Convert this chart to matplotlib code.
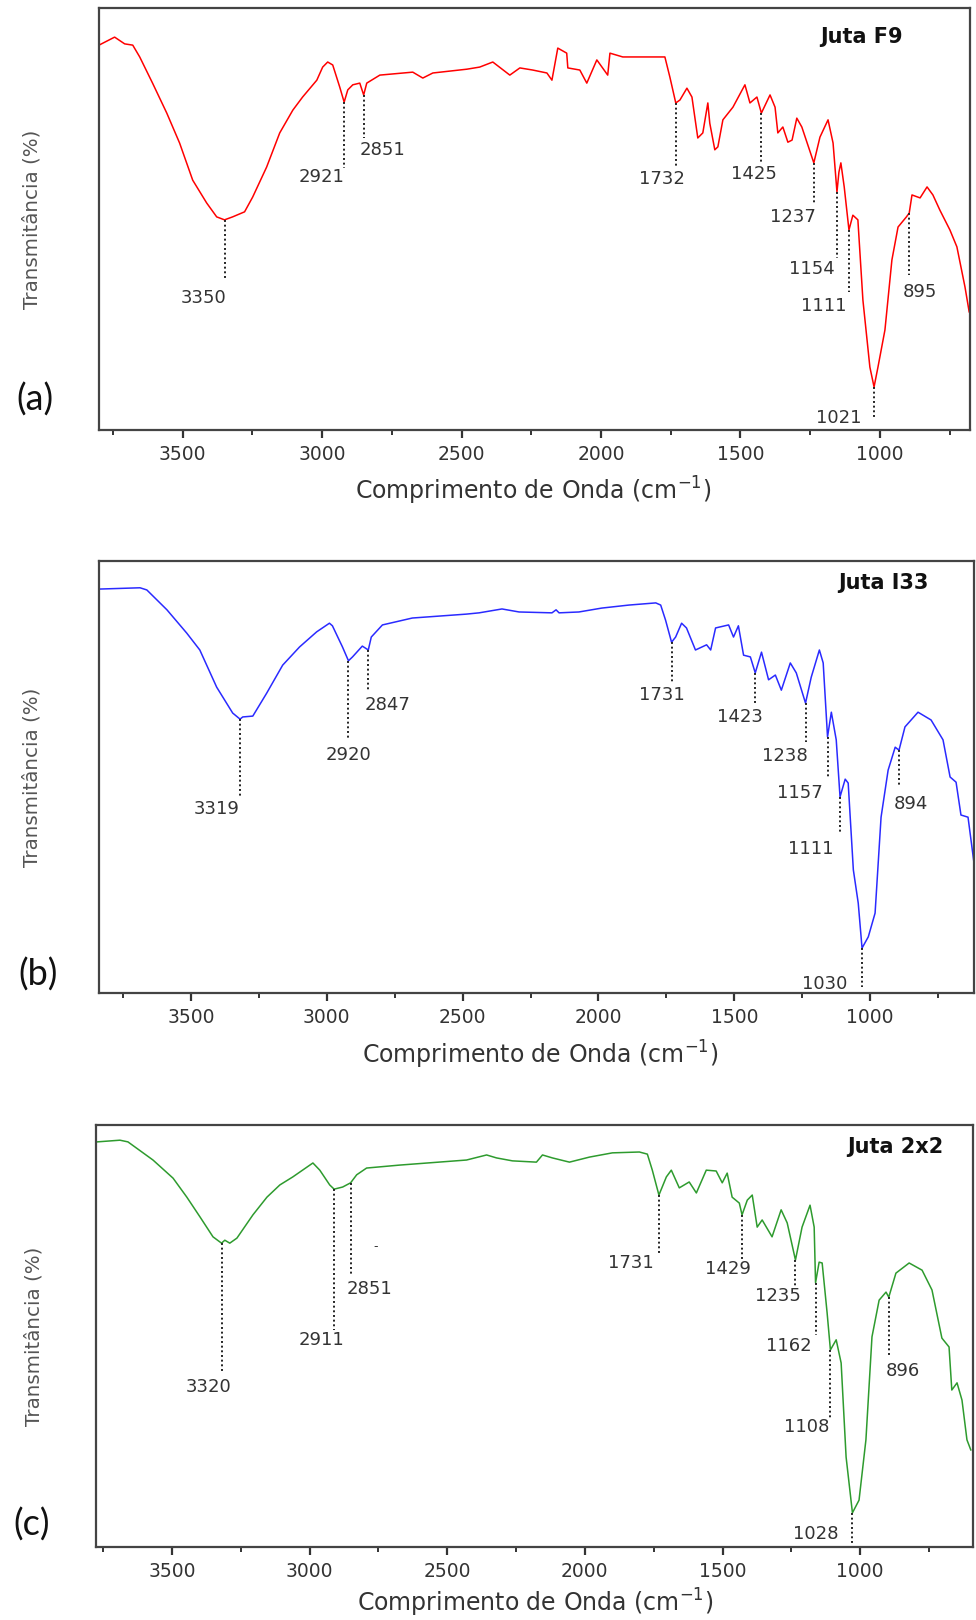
import numpy as np
import matplotlib
matplotlib.use('Agg')
import matplotlib.pyplot as plt

plt.rcParams['mathtext.default'] = 'regular'

# FTIR spectra of jute fibres: wavenumber (cm-1) and transmittance (arbitrary %)
wn_a = [3800, 3744, 3708, 3679, 3654, 3608, 3557, 3511, 3464, 3414, 3378, 3350, 3321, 3278,
        3249, 3199, 3152, 3105, 3070, 3019, 2998, 2980, 2962, 2937, 2921, 2908, 2890, 2865,
        2851, 2840, 2793, 2675, 2639, 2603, 2481, 2435, 2388, 2327, 2291, 2245, 2194, 2176,
        2155, 2123, 2119, 2076, 2051, 2015, 1976, 1968, 1922, 1814, 1771, 1753, 1732, 1717,
        1692, 1674, 1653, 1635, 1617, 1610, 1592, 1581, 1563, 1527, 1484, 1466, 1441, 1425,
        1394, 1376, 1366, 1348, 1330, 1315, 1298, 1280, 1237, 1215, 1186, 1168, 1154, 1147,
        1140, 1128, 1111, 1097, 1079, 1061, 1036, 1021, 1007, 982, 957, 935, 905, 895, 885,
        856, 831, 810, 785, 749, 724, 695, 680]
t_a = [91.2, 93.1, 91.5, 91.2, 88.4, 82.2, 75.1, 68.0, 59.2, 53.8, 50.5, 49.8, 50.5, 51.7,
       55.2, 62.3, 70.4, 75.8, 78.9, 82.9, 86.0, 87.2, 86.5, 81.3, 77.7, 80.6, 81.8, 82.2,
       79.4, 82.2, 84.1, 84.8, 83.4, 84.6, 85.5, 86.0, 87.2, 84.1, 85.8, 85.3, 84.6, 82.9,
       90.5, 89.3, 85.8, 85.3, 82.2, 87.7, 84.1, 89.3, 88.4, 88.4, 88.4, 83.6, 77.5, 78.2,
       81.0, 78.9, 69.2, 70.4, 77.5, 72.7, 66.4, 67.1, 73.5, 76.5, 81.8, 77.5, 78.9, 75.1,
       79.4, 76.5, 70.4, 71.8, 68.2, 68.7, 73.9, 71.8, 63.3, 69.4, 73.5, 68.0, 56.4, 61.1,
       63.3, 57.6, 47.4, 50.9, 49.8, 30.8, 14.9, 10.2, 14.9, 23.7, 40.3, 48.1, 50.5, 51.4, 55.7,
       55.0, 57.6, 55.7, 52.1, 47.4, 43.4, 33.9, 28.0]

wn_b = [3838, 3687, 3662, 3588, 3515, 3467, 3405, 3346, 3319, 3309, 3272, 3221, 3162, 3100,
        3037, 2990, 2979, 2942, 2920, 2905, 2869, 2847, 2836, 2795, 2685, 2487, 2439, 2355,
        2292, 2171, 2156, 2145, 2072, 1988, 1888, 1789, 1771, 1753, 1731, 1716, 1694, 1676,
        1643, 1602, 1587, 1569, 1521, 1503, 1485, 1466, 1441, 1423, 1400, 1374, 1349, 1327,
        1294, 1272, 1238, 1217, 1187, 1173, 1157, 1143, 1125, 1111, 1092, 1081, 1062, 1044,
        1030, 1007, 982, 960, 934, 908, 894, 872, 824, 776, 732, 706, 684, 666, 640, 618]
t_b = [93.5, 93.8, 93.3, 88.7, 83.3, 79.4, 70.8, 64.8, 63.4, 63.9, 64.1, 69.4, 75.9, 80.1,
       83.6, 85.6, 85.0, 80.1, 76.9, 77.8, 80.3, 79.4, 82.4, 85.2, 86.8, 87.7, 88.0, 88.9,
       88.2, 88.0, 88.7, 88.0, 88.2, 89.1, 89.8, 90.3, 89.8, 86.3, 81.2, 82.4, 85.6, 84.5,
       79.4, 80.6, 79.4, 84.5, 85.2, 82.4, 85.0, 78.2, 77.8, 74.1, 78.9, 72.5, 73.6, 70.1,
       76.4, 74.1, 67.1, 73.1, 79.4, 76.4, 59.3, 65.0, 58.6, 45.4, 49.5, 48.6, 28.5, 20.8,
       10.4, 13.0, 18.5, 40.7, 51.6, 56.9, 56.2, 61.6, 65.0, 63.2, 58.6, 50.0, 48.8, 41.2, 40.7, 30.1]

wn_c = [3772, 3689, 3660, 3569, 3496, 3446, 3398, 3351, 3320, 3308, 3290, 3264, 3206, 3155,
        3108, 3061, 2988, 2963, 2927, 2911, 2880, 2851, 2829, 2793, 2673, 2430, 2357, 2321,
        2263, 2176, 2154, 2118, 2056, 1983, 1900, 1802, 1773, 1755, 1731, 1704, 1686, 1657,
        1621, 1595, 1559, 1523, 1501, 1483, 1465, 1439, 1429, 1410, 1392, 1374, 1356, 1320,
        1287, 1265, 1235, 1211, 1182, 1167, 1162, 1149, 1138, 1120, 1108, 1087, 1069, 1051,
        1028, 1004, 979, 957, 931, 906, 896, 870, 822, 775, 739, 703, 677, 667, 648, 630, 612, 598]
t_c = [96.0, 96.4, 96.0, 91.7, 87.4, 82.9, 78.2, 73.5, 72.0, 72.7, 72.0, 73.2, 78.7, 82.9,
       85.8, 87.7, 91.0, 89.3, 85.8, 84.8, 85.3, 86.3, 88.2, 89.8, 90.5, 91.7, 92.9, 92.2,
       91.5, 91.2, 92.9, 92.2, 91.2, 92.4, 93.4, 93.6, 93.1, 89.3, 83.4, 87.7, 89.3, 85.1,
       86.5, 83.9, 89.3, 89.1, 86.3, 88.6, 82.9, 81.5, 78.7, 82.2, 83.4, 75.8, 77.5, 73.5,
       79.9, 76.8, 68.0, 75.8, 81.0, 75.8, 62.6, 67.5, 67.3, 55.5, 46.7, 49.1, 43.6, 21.3,
       8.1, 11.1, 25.4, 49.8, 58.5, 60.4, 59.2, 64.9, 67.3, 65.6, 60.9, 49.5, 47.4, 37.2,
       38.9, 34.8, 25.4, 23.0]

# labelled bands
peaks_a = [3350, 2921, 2851, 1732, 1425, 1237, 1154, 1111, 1021, 895]
peaks_b = [3319, 2920, 2847, 1731, 1423, 1238, 1157, 1111, 1030, 894]
peaks_c = [3320, 2911, 2851, 1731, 1429, 1235, 1162, 1108, 1028, 896]

# label layout: (bottom of dotted line, top of text, horizontal text shift in px)
lay_a = [(35.5, 33.4, -21), (62.1, 62.1, -23), (69.2, 68.5, 19), (62.3, 61.6, -14),
         (63.5, 62.8, -7), (53.3, 52.6, -21), (40.8, 40.3, -25), (32.7, 31.5, -25),
         (2.8, 5.0, -35), (36.7, 34.8, 11)]
lay_b = [(45.4, 44.7, -23), (58.6, 57.2, 0), (69.7, 68.8, 19), (71.8, 71.1, -10),
         (67.1, 66.0, -15), (58.1, 56.9, -21), (49.8, 48.4, -28), (37.0, 35.4, -29),
         (1.4, 4.2, -37), (48.1, 45.8, 12)]
lay_c = [(41.2, 40.0, -13), (51.4, 51.2, -13), (64.5, 63.3, 19), (69.2, 69.4, -28),
         (68.0, 68.0, -14), (61.6, 61.6, -18), (50.2, 49.8, -27), (30.1, 30.6, -24),
         (0.5, 5.2, -37), (45.0, 43.8, 14)]

TXT = '#333333'


def draw_panel(ax, wn, t, color, xlim, peaks, lay, title, title_xy, xlab_xy, ylab_x):
    ax.plot(wn, t, color=color, lw=1.1)
    ax.set_xlim(*xlim)
    ax.set_ylim(0, 100)
    ax.set_yticks([])
    ax.set_xticks([3500, 3000, 2500, 2000, 1500, 1000])
    ax.set_xticks([3750, 3250, 2750, 2250, 1750, 1250, 750], minor=True)
    ax.tick_params(axis='x', which='major', direction='out', length=6, width=1.6,
                   colors=TXT, labelsize=13.5, pad=5)
    ax.tick_params(axis='x', which='minor', direction='out', length=3.5, width=1.4, colors=TXT)
    for s in ax.spines.values():
        s.set_color('#444444')
        s.set_linewidth(1.6)

    # dotted markers from the curve down to each band label
    xs = np.array(wn)[::-1]
    ys = np.array(t)[::-1]
    for p, (bot, top, dx) in zip(peaks, lay):
        y0 = np.interp(p, xs, ys)
        ax.plot([p, p], [y0, bot], color='#222222', lw=1.4, ls=(0, (1, 1.4)))
        ax.annotate(str(p), xy=(p, top), xytext=(dx, 0), textcoords='offset pixels',
                    ha='center', va='top', fontsize=13, color=TXT)

    ax.text(title_xy[0], title_xy[1], title, transform=ax.transAxes, ha='center',
            va='center', fontsize=15, fontweight='bold', color='#111111')
    ax.set_xlabel('Comprimento de Onda (cm$^{-1}$)', fontsize=17, color=TXT)
    ax.xaxis.set_label_coords(xlab_xy[0], xlab_xy[1])
    ax.set_ylabel('Transmitância (%)', fontsize=14.3, color='#555555')
    ax.yaxis.set_label_coords(ylab_x, 0.5)


fig = plt.figure(figsize=(9.76, 16.2), dpi=100)
W, H = 976.0, 1620.0
ax_a = fig.add_axes([99 / W, 1 - 430 / H, 871 / W, 422 / H])
ax_b = fig.add_axes([99 / W, 1 - 993 / H, 875 / W, 432 / H])
ax_c = fig.add_axes([96 / W, 1 - 1547 / H, 877 / W, 422 / H])

draw_panel(ax_a, wn_a, t_a, '#ff0000', (3800, 677), peaks_a, lay_a, 'Juta F9',
           (0.875, 0.931), (0.498, -0.107), -0.066)
draw_panel(ax_b, wn_b, t_b, '#2a2aff', (3838, 618), peaks_b, lay_b, 'Juta I33',
           (0.897, 0.949), (0.504, -0.107), -0.066)
draw_panel(ax_c, wn_c, t_c, '#2e9b2e', (3776, 590), peaks_c, lay_c, 'Juta 2x2',
           (0.911, 0.948), (0.501, -0.095), -0.060)

# small stray mark in panel (c)
ax_c.text(2760, 71.1, '-', fontsize=9, color=TXT, ha='center', va='center')

# panel letters
for lab, (px, py) in zip(['(a)', '(b)', '(c)'], [(35, 400), (38, 975), (32, 1525)]):
    fig.text(px / W, 1 - py / H, lab, fontsize=26, family=['Lato', 'DejaVu Sans'],
             ha='center', va='center', color='#111111')

fig.savefig('out.png', dpi=100)
